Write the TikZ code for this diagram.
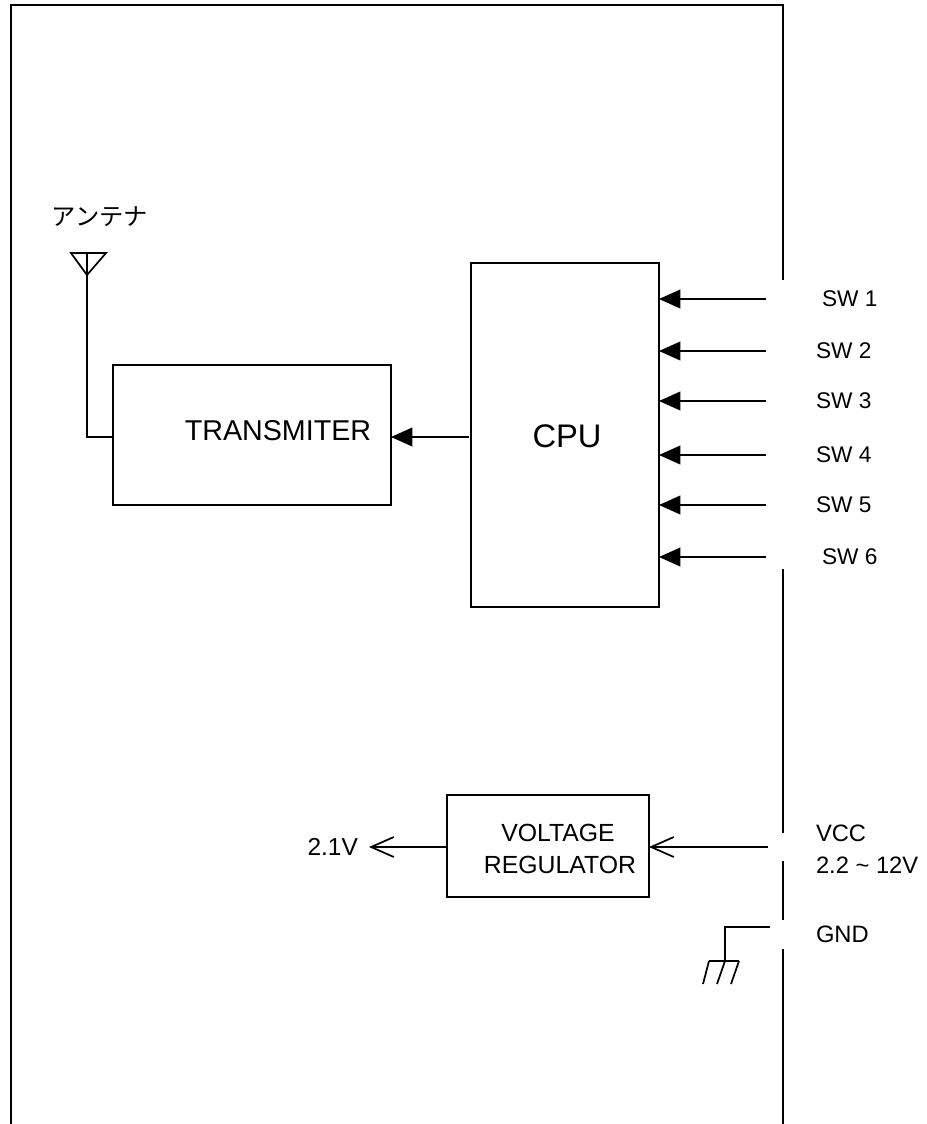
\documentclass[tikz,border=0pt]{standalone}
\usepackage{fontspec}
\setmainfont{Liberation Sans}
\newfontfamily\cjkfont{Noto Sans CJK JP}
\usetikzlibrary{arrows.meta}

\begin{document}
\begin{tikzpicture}[x=0.75pt, y=-0.75pt, line width=1.3pt, line cap=butt,
    every node/.style={inner sep=0pt, outer sep=0pt, font=\fontsize{17}{24}\selectfont},
    block/.style={rectangle, draw},
    swlabel/.style={anchor=west},
    powerlabel/.style={anchor=west, font=\fontsize{17.8}{24}\selectfont},
    bigtext/.style={font=\fontsize{24.5}{30}\selectfont},
    midtext/.style={align=center},
    solidtip/.style={-{Triangle[length=16pt,width=14pt]}},
    opentip/.style={-{Straight Barb[length=17pt,width=15pt,line width=1.3pt]}}]

\useasboundingbox (0,0) rectangle (927,1124);

% Case outline
\coordinate (topleft) at (11,5);
\coordinate (topright) at (783,5);
\coordinate (bottomleft) at (11,1124);
\draw (bottomleft) -- (topleft) -- (topright) -- (783,280);
\draw (783,569) -- (783,833);
\draw (783,861) -- (783,920);
\draw (783,949) -- (783,1124);

% Blocks
\node[block, minimum width=141pt, minimum height=258pt] (cpu) at (565,435) {};
\node[block, minimum width=208.5pt, minimum height=105pt] (trans) at (252,435) {};
\node[block, minimum width=151.5pt, minimum height=76.5pt] (reg) at (548,846) {};

% Block texts
\node[bigtext] (cputext) at (567,436) {CPU};
\node[midtext, font=\fontsize{21.5}{24}\selectfont] (transtext) at (278,431) {TRANSMITER};
\node[midtext, font=\fontsize{18.6}{24}\selectfont] (regtext) at (560,849) {\hspace*{-3pt}VOLTAGE\\REGULATOR};

% Antenna
\node[font=\fontsize{18.2}{24}\selectfont] (anttext) at (100,217) {\cjkfont アンテナ};
\coordinate (anttop) at (87,253);
\coordinate (antbase) at (87,275);
\coordinate (antcorner) at (87,437);
\draw (71,253) -- (106,253) -- (antbase) -- cycle;
\draw (anttop) -- (antcorner) -- (antcorner -| trans.west);

% Switch inputs
\node[swlabel] (sw1) at (822,299) {SW 1};
\node[swlabel] (sw2) at (816,351) {SW 2};
\node[swlabel] (sw3) at (816,401) {SW 3};
\node[swlabel] (sw4) at (816,455) {SW 4};
\node[swlabel] (sw5) at (816,505) {SW 5};
\node[swlabel] (sw6) at (822,557) {SW 6};

\coordinate (in1) at (766,299);
\coordinate (in2) at (766,351);
\coordinate (in3) at (766,401);
\coordinate (in4) at (766,455);
\coordinate (in5) at (766,505);
\coordinate (in6) at (766,557);

\draw[solidtip] (in1) -- (in1 -| cpu.east);
\draw[solidtip] (in2) -- (in2 -| cpu.east);
\draw[solidtip] (in3) -- (in3 -| cpu.east);
\draw[solidtip] (in4) -- (in4 -| cpu.east);
\draw[solidtip] (in5) -- (in5 -| cpu.east);
\draw[solidtip] (in6) -- (in6 -| cpu.east);

% CPU to transmitter
\coordinate (txout) at (469,437);
\draw[solidtip] (txout) -- (txout -| trans.east);

% Power
\node[powerlabel, align=left] (vcc) at (816,849) {VCC\\2.2 \textasciitilde{} 12V};
\node[anchor=east, font=\fontsize{18.4}{24}\selectfont] (out) at (358,847) {2.1V};
\coordinate (vccin) at (768,847);
\coordinate (outtip) at (369,847);
\draw[opentip] (vccin) -- (vccin -| reg.east);
\draw[opentip] (outtip -| reg.west) -- (outtip);

% Ground
\node[powerlabel] (gnd) at (816,934) {GND};
\coordinate (gndin) at (770,927);
\coordinate (gndbar) at (725,961);
\draw (gndin) -- (gndin -| gndbar) -- (gndbar);
\draw (709,961) -- (739,961);
\draw (709,961) -- (703,984);
\draw (gndbar) -- (717,984);
\draw (739,961) -- (731,984);

\end{tikzpicture}
\end{document}
